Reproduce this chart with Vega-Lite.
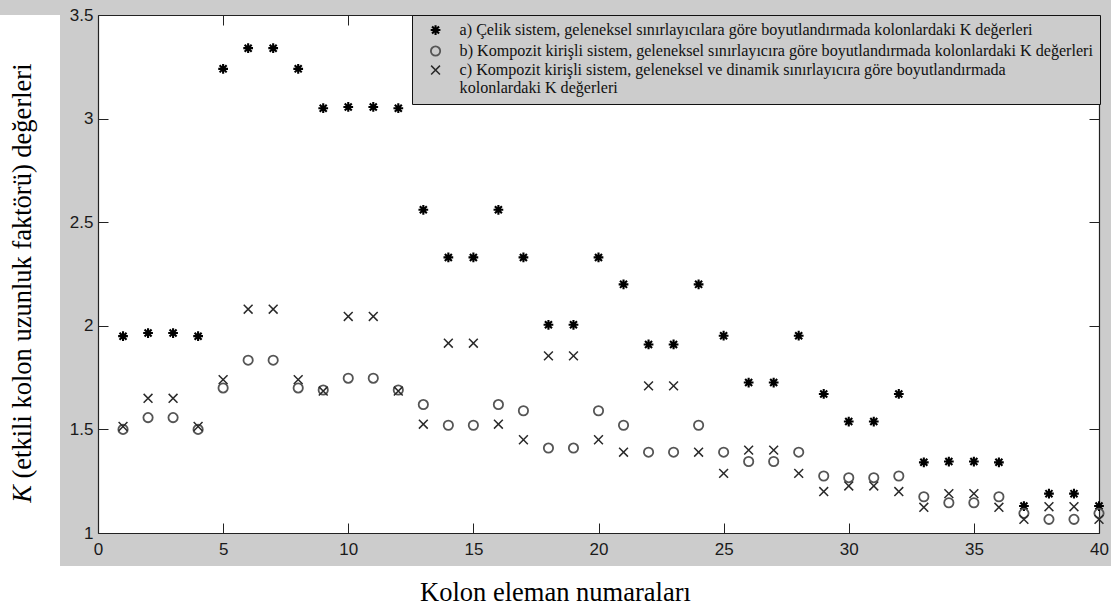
{
  "$schema": "https://vega.github.io/schema/vega-lite/v6.json",
  "background": "#cccccc",
  "padding": 0,
  "spacing": 0,
  "config": {"font": "Liberation Sans", "concat": {"spacing": 0}},
  "vconcat": [
    {
      "spacing": 0,
      "hconcat": [
        {
          "width": 60,
          "height": 551,
          "view": {"fill": "white", "stroke": null},
          "data": {"values": [{"simge": "K", "baslik": "(etkili kolon uzunluk faktörü) değerleri"}]},
          "layer": [
            {
              "mark": {"type": "text", "angle": 270, "font": "Liberation Serif", "fontSize": 26.5, "fontStyle": "italic", "color": "black", "dy": -7, "dx": -203.5},
              "encoding": {"text": {"field": "simge"}}
            },
            {
              "mark": {"type": "text", "angle": 270, "font": "Liberation Serif", "fontSize": 26.5, "color": "black", "dy": -7, "dx": 19.5},
              "encoding": {"text": {"field": "baslik"}}
            }
          ]
        },
        {
          "width": 1001,
          "height": 518,
          "view": {"fill": "white", "stroke": null},
          "data": {"values": [
            {"kolon": 1, "K": 1.95, "seri": "a"}, {"kolon": 2, "K": 1.965, "seri": "a"}, {"kolon": 3, "K": 1.965, "seri": "a"}, {"kolon": 4, "K": 1.95, "seri": "a"},
            {"kolon": 5, "K": 3.24, "seri": "a"}, {"kolon": 6, "K": 3.34, "seri": "a"}, {"kolon": 7, "K": 3.34, "seri": "a"}, {"kolon": 8, "K": 3.24, "seri": "a"},
            {"kolon": 9, "K": 3.05, "seri": "a"}, {"kolon": 10, "K": 3.056, "seri": "a"}, {"kolon": 11, "K": 3.056, "seri": "a"}, {"kolon": 12, "K": 3.05, "seri": "a"},
            {"kolon": 13, "K": 2.56, "seri": "a"}, {"kolon": 14, "K": 2.33, "seri": "a"}, {"kolon": 15, "K": 2.33, "seri": "a"}, {"kolon": 16, "K": 2.56, "seri": "a"},
            {"kolon": 17, "K": 2.33, "seri": "a"}, {"kolon": 18, "K": 2.005, "seri": "a"}, {"kolon": 19, "K": 2.005, "seri": "a"}, {"kolon": 20, "K": 2.33, "seri": "a"},
            {"kolon": 21, "K": 2.2, "seri": "a"}, {"kolon": 22, "K": 1.91, "seri": "a"}, {"kolon": 23, "K": 1.91, "seri": "a"}, {"kolon": 24, "K": 2.2, "seri": "a"},
            {"kolon": 25, "K": 1.952, "seri": "a"}, {"kolon": 26, "K": 1.726, "seri": "a"}, {"kolon": 27, "K": 1.726, "seri": "a"}, {"kolon": 28, "K": 1.952, "seri": "a"},
            {"kolon": 29, "K": 1.671, "seri": "a"}, {"kolon": 30, "K": 1.538, "seri": "a"}, {"kolon": 31, "K": 1.538, "seri": "a"}, {"kolon": 32, "K": 1.671, "seri": "a"},
            {"kolon": 33, "K": 1.341, "seri": "a"}, {"kolon": 34, "K": 1.345, "seri": "a"}, {"kolon": 35, "K": 1.345, "seri": "a"}, {"kolon": 36, "K": 1.341, "seri": "a"},
            {"kolon": 37, "K": 1.13, "seri": "a"}, {"kolon": 38, "K": 1.19, "seri": "a"}, {"kolon": 39, "K": 1.19, "seri": "a"}, {"kolon": 40, "K": 1.13, "seri": "a"},
            {"kolon": 1, "K": 1.5, "seri": "b"}, {"kolon": 2, "K": 1.557, "seri": "b"}, {"kolon": 3, "K": 1.557, "seri": "b"}, {"kolon": 4, "K": 1.5, "seri": "b"},
            {"kolon": 5, "K": 1.7, "seri": "b"}, {"kolon": 6, "K": 1.834, "seri": "b"}, {"kolon": 7, "K": 1.834, "seri": "b"}, {"kolon": 8, "K": 1.7, "seri": "b"},
            {"kolon": 9, "K": 1.69, "seri": "b"}, {"kolon": 10, "K": 1.747, "seri": "b"}, {"kolon": 11, "K": 1.747, "seri": "b"}, {"kolon": 12, "K": 1.69, "seri": "b"},
            {"kolon": 13, "K": 1.62, "seri": "b"}, {"kolon": 14, "K": 1.52, "seri": "b"}, {"kolon": 15, "K": 1.52, "seri": "b"}, {"kolon": 16, "K": 1.62, "seri": "b"},
            {"kolon": 17, "K": 1.59, "seri": "b"}, {"kolon": 18, "K": 1.41, "seri": "b"}, {"kolon": 19, "K": 1.41, "seri": "b"}, {"kolon": 20, "K": 1.59, "seri": "b"},
            {"kolon": 21, "K": 1.52, "seri": "b"}, {"kolon": 22, "K": 1.39, "seri": "b"}, {"kolon": 23, "K": 1.39, "seri": "b"}, {"kolon": 24, "K": 1.52, "seri": "b"},
            {"kolon": 25, "K": 1.39, "seri": "b"}, {"kolon": 26, "K": 1.345, "seri": "b"}, {"kolon": 27, "K": 1.345, "seri": "b"}, {"kolon": 28, "K": 1.39, "seri": "b"},
            {"kolon": 29, "K": 1.275, "seri": "b"}, {"kolon": 30, "K": 1.267, "seri": "b"}, {"kolon": 31, "K": 1.267, "seri": "b"}, {"kolon": 32, "K": 1.275, "seri": "b"},
            {"kolon": 33, "K": 1.175, "seri": "b"}, {"kolon": 34, "K": 1.146, "seri": "b"}, {"kolon": 35, "K": 1.146, "seri": "b"}, {"kolon": 36, "K": 1.175, "seri": "b"},
            {"kolon": 37, "K": 1.095, "seri": "b"}, {"kolon": 38, "K": 1.066, "seri": "b"}, {"kolon": 39, "K": 1.066, "seri": "b"}, {"kolon": 40, "K": 1.095, "seri": "b"},
            {"kolon": 1, "K": 1.514, "seri": "c"}, {"kolon": 2, "K": 1.65, "seri": "c"}, {"kolon": 3, "K": 1.65, "seri": "c"}, {"kolon": 4, "K": 1.514, "seri": "c"},
            {"kolon": 5, "K": 1.74, "seri": "c"}, {"kolon": 6, "K": 2.08, "seri": "c"}, {"kolon": 7, "K": 2.08, "seri": "c"}, {"kolon": 8, "K": 1.74, "seri": "c"},
            {"kolon": 9, "K": 1.685, "seri": "c"}, {"kolon": 10, "K": 2.045, "seri": "c"}, {"kolon": 11, "K": 2.045, "seri": "c"}, {"kolon": 12, "K": 1.685, "seri": "c"},
            {"kolon": 13, "K": 1.525, "seri": "c"}, {"kolon": 14, "K": 1.916, "seri": "c"}, {"kolon": 15, "K": 1.916, "seri": "c"}, {"kolon": 16, "K": 1.525, "seri": "c"},
            {"kolon": 17, "K": 1.45, "seri": "c"}, {"kolon": 18, "K": 1.855, "seri": "c"}, {"kolon": 19, "K": 1.855, "seri": "c"}, {"kolon": 20, "K": 1.45, "seri": "c"},
            {"kolon": 21, "K": 1.39, "seri": "c"}, {"kolon": 22, "K": 1.71, "seri": "c"}, {"kolon": 23, "K": 1.71, "seri": "c"}, {"kolon": 24, "K": 1.39, "seri": "c"},
            {"kolon": 25, "K": 1.288, "seri": "c"}, {"kolon": 26, "K": 1.4, "seri": "c"}, {"kolon": 27, "K": 1.4, "seri": "c"}, {"kolon": 28, "K": 1.288, "seri": "c"},
            {"kolon": 29, "K": 1.2, "seri": "c"}, {"kolon": 30, "K": 1.227, "seri": "c"}, {"kolon": 31, "K": 1.227, "seri": "c"}, {"kolon": 32, "K": 1.2, "seri": "c"},
            {"kolon": 33, "K": 1.124, "seri": "c"}, {"kolon": 34, "K": 1.19, "seri": "c"}, {"kolon": 35, "K": 1.19, "seri": "c"}, {"kolon": 36, "K": 1.124, "seri": "c"},
            {"kolon": 37, "K": 1.066, "seri": "c"}, {"kolon": 38, "K": 1.127, "seri": "c"}, {"kolon": 39, "K": 1.127, "seri": "c"}, {"kolon": 40, "K": 1.066, "seri": "c"}
          ]},
          "resolve": {"axis": {"x": "independent", "y": "independent"}},
          "layer": [
            {
              "mark": {"type": "point", "filled": false, "opacity": 1, "clip": false},
              "encoding": {
                "x": {
                  "field": "kolon", "type": "quantitative",
                  "scale": {"domain": [0, 40], "nice": false, "zero": false},
                  "axis": {
                    "orient": "bottom", "title": null, "grid": false,
                    "values": [0, 5, 10, 15, 20, 25, 30, 35, 40],
                    "tickSize": -10, "tickColor": "#222", "domainColor": "#222", "domainWidth": 1.2,
                    "labelPadding": 18, "labelFlush": false, "labelFont": "Liberation Sans", "labelFontSize": 17, "labelColor": "#1a1a1a",
                    "minExtent": 33, "maxExtent": 33
                  }
                },
                "y": {
                  "field": "K", "type": "quantitative",
                  "scale": {"domain": [1, 3.5], "nice": false, "zero": false},
                  "axis": {
                    "orient": "left", "title": null, "grid": false,
                    "values": [1, 1.5, 2, 2.5, 3, 3.5], "format": "~g",
                    "tickSize": -10, "tickColor": "#222", "domainColor": "#222", "domainWidth": 1.2,
                    "labelPadding": 15, "labelFlush": false, "labelFont": "Liberation Sans", "labelFontSize": 17, "labelColor": "#1a1a1a",
                    "minExtent": 38, "maxExtent": 38
                  }
                },
                "color": {
                  "field": "seri", "type": "nominal",
                  "scale": {"domain": ["a", "b", "c"], "range": ["#000000", "#555555", "#2a2a2a"]},
                  "legend": {
                    "title": null, "orient": "none", "legendX": 412, "legendY": 0,
                    "fillColor": "#cccccc", "strokeColor": "#111111", "padding": 7,
                    "symbolOffset": 8.5, "labelOffset": 16, "rowPadding": 2,
                    "labelFont": "Liberation Serif", "labelFontSize": 16.1, "labelColor": "#111111", "labelLimit": 900,
                    "labelExpr": "datum.value == 'a' ? 'a) Çelik sistem, geleneksel sınırlayıcılara göre boyutlandırmada kolonlardaki K değerleri' : datum.value == 'b' ? 'b) Kompozit kirişli sistem, geleneksel sınırlayıcıra göre boyutlandırmada kolonlardaki K değerleri' : ['c) Kompozit kirişli sistem, geleneksel ve dinamik sınırlayıcıra göre boyutlandırmada', '\u00a0\u00a0kolonlardaki K değerleri']"
                  }
                },
                "shape": {
                  "field": "seri", "type": "nominal",
                  "scale": {"domain": ["a", "b", "c"], "range": ["M-1,0L1,0M0,-1L0,1M-0.72,-0.72L0.72,0.72M-0.72,0.72L0.72,-0.72", "circle", "M-1,-1L1,1M-1,1L1,-1"]}
                },
                "size": {
                  "field": "seri", "type": "nominal",
                  "scale": {"domain": ["a", "b", "c"], "range": [95, 78, 45]}
                },
                "strokeWidth": {
                  "field": "seri", "type": "nominal",
                  "scale": {"domain": ["a", "b", "c"], "range": [2.1, 1.5, 1.5]}
                }
              }
            },
            {
              "mark": {"type": "point", "opacity": 0},
              "encoding": {
                "x": {
                  "field": "kolon", "type": "quantitative",
                  "scale": {"domain": [0, 40], "nice": false, "zero": false},
                  "axis": {
                    "orient": "top", "title": null, "grid": false, "labels": false,
                    "values": [0, 5, 10, 15, 20, 25, 30, 35, 40],
                    "tickSize": -10, "tickColor": "#222", "domainColor": "#222", "domainWidth": 1.2,
                    "minExtent": 15, "maxExtent": 15
                  }
                },
                "y": {
                  "field": "K", "type": "quantitative",
                  "scale": {"domain": [1, 3.5], "nice": false, "zero": false},
                  "axis": {
                    "orient": "right", "title": null, "grid": false, "labels": false,
                    "values": [1, 1.5, 2, 2.5, 3, 3.5],
                    "tickSize": -10, "tickColor": "#222", "domainColor": "#222", "domainWidth": 1.2,
                    "minExtent": 12, "maxExtent": 12
                  }
                }
              }
            }
          ]
        }
      ]
    },
    {
      "width": 1111,
      "height": 45,
      "view": {"fill": "white", "stroke": null},
      "data": {"values": [{"baslik": "Kolon eleman numaraları"}]},
      "mark": {"type": "text", "font": "Liberation Serif", "fontSize": 26.5, "color": "black", "dy": 4},
      "encoding": {"text": {"field": "baslik"}}
    }
  ]
}
